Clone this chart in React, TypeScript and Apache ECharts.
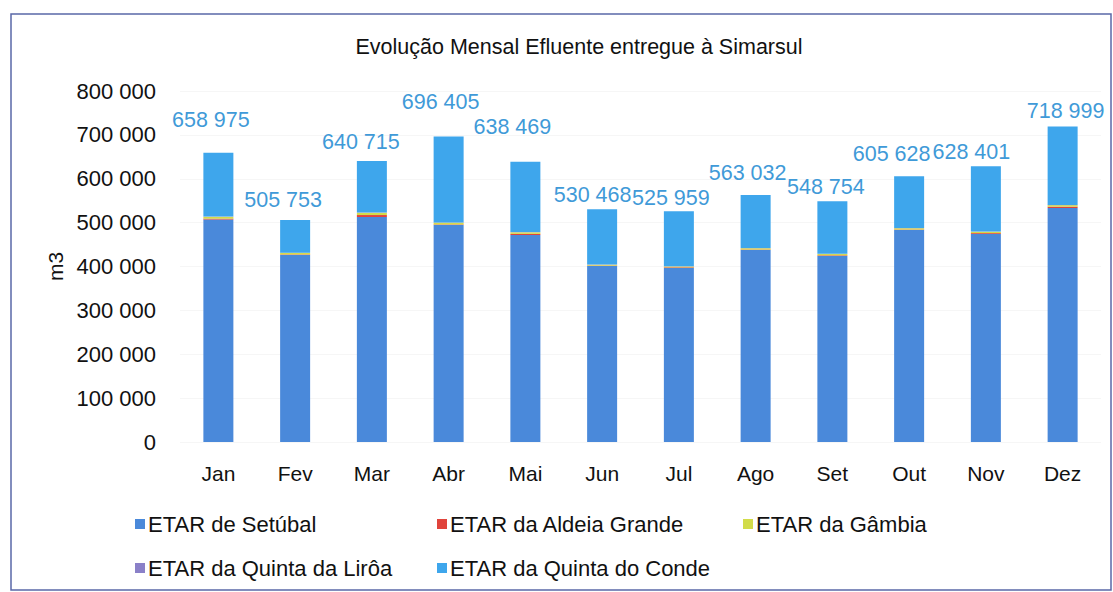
import React, { useEffect, useRef } from "react";
import * as echarts from "echarts";

const months = ["Jan", "Fev", "Mar", "Abr", "Mai", "Jun", "Jul", "Ago", "Set", "Out", "Nov", "Dez"];
const setubal = [507100, 426200, 512800, 494600, 471800, 401100, 396600, 437600, 423900, 483200, 474100, 533300];
const aldeiaGrande = [2000, 1200, 4500, 1200, 2500, 900, 1500, 1000, 1500, 1000, 2000, 3000];
const gambia = [4000, 3500, 5000, 4000, 3500, 2000, 2000, 3000, 3000, 3000, 3000, 3500];
const quintaLiroa = [600, 500, 600, 600, 600, 500, 500, 500, 500, 500, 500, 600];
const quintaConde = [145275, 74353, 117815, 196005, 160069, 125968, 125359, 120932, 119854, 117928, 148801, 178599];
const totals = [658975, 505753, 640715, 696405, 638469, 530468, 525959, 563032, 548754, 605628, 628401, 718999];
const labelDx = [-7.5, -12, -11, -8, -13, -9.5, -8, -8, -6.5, -17.5, -14.5, 3];
const labelDy = [-22, -9.5, -8, -23, -24, -3.5, -2, -10.5, -3, -11, -3, -4.5];

const seriesNames = [
  "ETAR de Setúbal",
  "ETAR da Aldeia Grande",
  "ETAR da Gâmbia",
  "ETAR da Quinta da Lirôa",
  "ETAR da Quinta do Conde",
];

const fmt = (n: number) => String(n).replace(/\B(?=(\d{3})+(?!\d))/g, " ");
const FONT = "Liberation Sans";

export default function App() {
  const ref = useRef<HTMLDivElement>(null);
  useEffect(() => {
    if (!ref.current) return;
    const chart = echarts.init(ref.current, null, { renderer: "svg" });
    const colors = ["#4a89da", "#e0443c", "#d2dc4a", "#8a80c8", "#3ea6ec"];
    const legendPos = [
      { left: 130, top: 508 },
      { left: 432, top: 508 },
      { left: 738, top: 508 },
      { left: 130, top: 552 },
      { left: 432, top: 552 },
    ];
    const datas = [setubal, aldeiaGrande, gambia, quintaLiroa, quintaConde];
    const option: any = {
      animation: false,
      backgroundColor: "#ffffff",
      color: colors,
      title: {
        text: "Evolução Mensal Efluente entregue à Simarsul",
        left: 574,
        textAlign: "center",
        top: 31,
        textStyle: { fontFamily: FONT, fontSize: 21.5, fontWeight: "normal", color: "#111" },
      },
      graphic: [
        {
          type: "rect",
          shape: { x: 11, y: 14, width: 1100, height: 576 },
          style: { fill: "none", stroke: "#5a68a8", lineWidth: 1.5 },
          silent: true,
        },
      ],
      legend: seriesNames.map((n, i) => ({
        data: [n],
        left: legendPos[i].left,
        top: legendPos[i].top,
        itemWidth: 10,
        itemHeight: 10,
        itemGap: 6,
        icon: "rect",
        textStyle: { fontFamily: FONT, fontSize: 22, color: "#111", padding: [0, 0, 0, -2] },
        selectedMode: false,
      })),
      grid: { left: 180, right: 12, top: 91, bottom: 150 },
      xAxis: {
        type: "category",
        data: months,
        axisLine: { show: false },
        axisTick: { show: false },
        axisLabel: { fontFamily: FONT, fontSize: 21, color: "#111", margin: 21 },
      },
      yAxis: {
        type: "value",
        min: 0,
        max: 800000,
        interval: 100000,
        name: "m3",
        nameLocation: "middle",
        nameGap: 114,
        nameTextStyle: { fontFamily: FONT, fontSize: 21, color: "#111" },
        axisLabel: { fontFamily: FONT, fontSize: 22, color: "#111", margin: 24, formatter: (v: number) => fmt(v) },
        splitLine: { lineStyle: { color: "#f6f6f6", width: 1 } },
      },
      series: seriesNames.map((n, i) => ({
        name: n,
        type: "bar",
        stack: "total",
        barWidth: 30,
        itemStyle: { color: colors[i] },
        data:
          i === 4
            ? datas[i].map((v, k) => ({
                value: v,
                label: { offset: [labelDx[k], labelDy[k]] },
              }))
            : datas[i],
        label:
          i === 4
            ? {
                show: true,
                position: "top",
                distance: 0,
                fontFamily: FONT,
                fontSize: 21.5,
                color: "#3f9ad8",
                formatter: (p: any) => fmt(totals[p.dataIndex]),
              }
            : { show: false },
      })),
    };
    chart.setOption(option);
    return () => chart.dispose();
  }, []);
  return <div ref={ref} style={{ position: "fixed", left: 0, top: 0, width: 1113, height: 592 }} />;
}
